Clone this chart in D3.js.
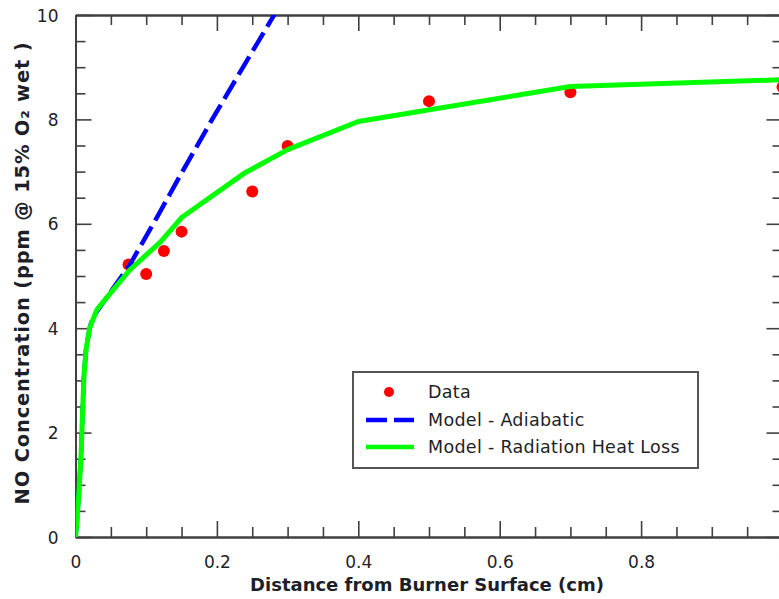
<!DOCTYPE html>
<html>
<head>
<meta charset="utf-8">
<script src="https://cdn.jsdelivr.net/npm/d3@7"></script>
<style>
  html, body { margin: 0; padding: 0; background: #fff; }
  svg { display: block; }
  text { font-family: "DejaVu Sans", Verdana, sans-serif; fill: #1e1e28; }
</style>
</head>
<body>
<svg id="chart" width="779" height="599"></svg>
<script>
// ---- data ----
const dataX = [0.075, 0.10, 0.125, 0.15, 0.25, 0.30, 0.50, 0.70, 1.00];
const dataY = [5.22, 5.04, 5.48, 5.85, 6.62, 7.49, 8.35, 8.52, 8.62];

const adiabaticX = [0, 0.002, 0.005, 0.008, 0.010, 0.012, 0.015, 0.020, 0.025, 0.050, 0.077, 0.115, 0.152, 0.195, 0.237, 0.280, 0.300];
const adiabaticY = [0, 0.30, 0.90, 1.60, 2.40, 3.10, 3.60, 4.00, 4.22, 4.70, 5.22, 6.12, 7.02, 8.04, 9.00, 9.98, 10.45];

const radiationX = [0, 0.002, 0.005, 0.008, 0.010, 0.012, 0.015, 0.020, 0.030, 0.050, 0.077, 0.120, 0.150, 0.240, 0.300, 0.400, 0.700, 1.000];
const radiationY = [0, 0.30, 0.90, 1.60, 2.40, 3.10, 3.60, 4.00, 4.35, 4.68, 5.12, 5.65, 6.12, 6.98, 7.42, 7.96, 8.63, 8.76];

const xMajorTicks = [0, 0.2, 0.4, 0.6, 0.8, 1];
const xMinorTicks = [0.05, 0.1, 0.15, 0.25, 0.3, 0.35, 0.45, 0.5, 0.55, 0.65, 0.7, 0.75, 0.85, 0.9, 0.95];
const yMajorTicks = [0, 2, 4, 6, 8, 10];
const yMinorTicks = [0.5, 1, 1.5, 2.5, 3, 3.5, 4.5, 5, 5.5, 6.5, 7, 7.5, 8.5, 9, 9.5];

const legendLabels = ["Data", "Model - Adiabatic", "Model - Radiation Heat Loss"];
const xTitle = "Distance from Burner Surface (cm)";
const yTitle = "NO Concentration (ppm @ 15% O\u2082 wet )";

// ---- layout ----
const svg = d3.select("#chart");
const L = 75.5, R = 782.5, T = 15, B = 537;
const x = d3.scaleLinear().domain([0, 1]).range([L, R]);
const y = d3.scaleLinear().domain([0, 10]).range([B, T]);
const axisColor = "#404040";

svg.append("defs").append("clipPath").attr("id", "plotClip")
  .append("rect").attr("x", L).attr("y", T).attr("width", R - L).attr("height", B - T);

function styleAxis(g) {
  g.selectAll("path.domain").attr("stroke", axisColor).attr("stroke-width", 2);
  g.selectAll(".tick line").attr("stroke", axisColor).attr("stroke-width", 1.6);
}

// bottom axis (labels)
const gB = svg.append("g").attr("transform", `translate(0,${B})`)
  .call(d3.axisBottom(x).tickValues(xMajorTicks).tickSizeInner(-16).tickSizeOuter(0)
        .tickPadding(0).tickFormat(d3.format("~g")));
gB.selectAll(".tick text").attr("y", 31).attr("dy", null)
  .style("font-size", "17px").attr("fill", "#1e1e28");
styleAxis(gB);
svg.append("g").attr("transform", `translate(0,${B})`)
  .call(d3.axisBottom(x).tickValues(xMinorTicks).tickSizeInner(-10).tickSizeOuter(0).tickFormat(""))
  .call(styleAxis);

// top axis
svg.append("g").attr("transform", `translate(0,${T})`)
  .call(d3.axisTop(x).tickValues(xMajorTicks).tickSizeInner(-16).tickSizeOuter(0).tickFormat(""))
  .call(styleAxis);
svg.append("g").attr("transform", `translate(0,${T})`)
  .call(d3.axisTop(x).tickValues(xMinorTicks).tickSizeInner(-10).tickSizeOuter(0).tickFormat(""))
  .call(styleAxis);

// left axis (labels)
const gL = svg.append("g").attr("transform", `translate(${L},0)`)
  .call(d3.axisLeft(y).tickValues(yMajorTicks).tickSizeInner(-16).tickSizeOuter(0)
        .tickPadding(0).tickFormat(d3.format("~g")));
gL.selectAll(".tick text").attr("x", -17).attr("dy", "0.36em")
  .style("font-size", "17px").attr("fill", "#1e1e28");
styleAxis(gL);
svg.append("g").attr("transform", `translate(${L},0)`)
  .call(d3.axisLeft(y).tickValues(yMinorTicks).tickSizeInner(-10).tickSizeOuter(0).tickFormat(""))
  .call(styleAxis);

// right axis
svg.append("g").attr("transform", `translate(${R},0)`)
  .call(d3.axisRight(y).tickValues(yMajorTicks).tickSizeInner(-16).tickSizeOuter(0).tickFormat(""))
  .call(styleAxis);
svg.append("g").attr("transform", `translate(${R},0)`)
  .call(d3.axisRight(y).tickValues(yMinorTicks).tickSizeInner(-10).tickSizeOuter(0).tickFormat(""))
  .call(styleAxis);

// ---- marks ----
const plot = svg.append("g").attr("clip-path", "url(#plotClip)");

plot.selectAll("circle.data").data(dataX.map((d, i) => [d, dataY[i]]))
  .join("circle").attr("class", "data")
  .attr("cx", d => x(d[0])).attr("cy", d => y(d[1])).attr("r", 6)
  .attr("fill", "#ff0000");

const line = d3.line().x(d => x(d[0])).y(d => y(d[1]));

plot.append("path")
  .datum(adiabaticX.map((d, i) => [d, adiabaticY[i]]))
  .attr("d", line).attr("fill", "none")
  .attr("stroke", "#0000ff").attr("stroke-width", 4.5)
  .attr("stroke-dasharray", "21,7");

plot.append("path")
  .datum(radiationX.map((d, i) => [d, radiationY[i]]))
  .attr("d", line).attr("fill", "none")
  .attr("stroke", "#00ff00").attr("stroke-width", 5)
  .attr("stroke-linejoin", "round");

// ---- titles ----
svg.append("text").attr("x", 427).attr("y", 591)
  .attr("text-anchor", "middle").style("font-size", "18px").style("font-weight", "bold")
  .text(xTitle);

svg.append("text")
  .attr("transform", "translate(29,273) rotate(-90)")
  .attr("text-anchor", "middle").style("font-size", "19.5px").style("font-weight", "bold")
  .style("letter-spacing", "0.8px")
  .text(yTitle);

// ---- legend ----
const lg = svg.append("g");
lg.append("rect").attr("x", 353).attr("y", 372).attr("width", 345).attr("height", 96)
  .attr("fill", "#fff").attr("stroke", "#555").attr("stroke-width", 2);
const rowY = [392, 420, 447];
lg.append("circle").attr("cx", 389).attr("cy", rowY[0]).attr("r", 5).attr("fill", "#ff0000");
lg.append("line").attr("x1", 366).attr("x2", 414).attr("y1", rowY[1]).attr("y2", rowY[1])
  .attr("stroke", "#0000ff").attr("stroke-width", 4.5).attr("stroke-dasharray", "21,7");
lg.append("line").attr("x1", 366).attr("x2", 414).attr("y1", rowY[2]).attr("y2", rowY[2])
  .attr("stroke", "#00ff00").attr("stroke-width", 4.5);
lg.selectAll("text.leg").data(legendLabels).join("text").attr("class", "leg")
  .attr("x", 428).attr("y", (d, i) => rowY[i]).attr("dy", "0.36em")
  .style("font-size", "17.5px").style("letter-spacing", "0.3px").text(d => d);
</script>
</body>
</html>
